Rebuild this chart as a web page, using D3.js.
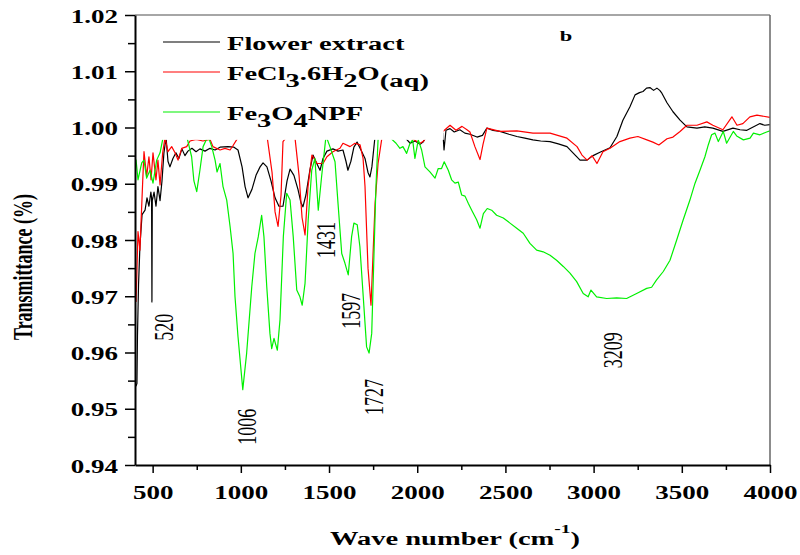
<!DOCTYPE html>
<html lang="en">
<head>
<meta charset="utf-8">
<title>FTIR spectra</title>
<script src="https://cdn.jsdelivr.net/npm/d3@7"></script>
<style>
  body{ margin:0; background:#fff; }
  svg{ display:block; font-family:"Liberation Serif","Times New Roman",serif; }
</style>
</head>
<body>
<div id="chart"></div>
<script>
// [wave number (cm-1), transmittance]
var flowerExtract = [[405,0.9540],[411,0.9545],[414,0.9630],[420,0.9720],[428,0.9790],[440,0.9845],[457,0.9853],[468,0.9875],[479,0.9860],[490,0.9885],[494,0.9875],[496,0.9690],[498,0.9870],[508,0.9885],[519,0.9860],[530,0.9895],[542,0.9870],[553,0.9905],[564,0.9955],[576,0.9982],[587,0.9940],[598,0.9930],[615,0.9945],[632,0.9955],[649,0.9945],[666,0.9962],[683,0.9950],[700,0.9958],[723,0.9963],[746,0.9957],[768,0.9962],[797,0.9958],[825,0.9963],[854,0.9960],[882,0.9965],[927,0.9966],[961,0.9965],[984,0.9960],[1007,0.9930],[1024,0.9895],[1041,0.9875],[1063,0.9890],[1086,0.9915],[1109,0.9930],[1126,0.9937],[1148,0.9930],[1171,0.9905],[1194,0.9875],[1216,0.9860],[1239,0.9860],[1262,0.9905],[1279,0.9926],[1301,0.9915],[1324,0.9890],[1341,0.9866],[1352,0.9859],[1369,0.9880],[1392,0.9925],[1409,0.9951],[1432,0.9935],[1449,0.9924],[1466,0.9945],[1488,0.9958],[1522,0.9962],[1551,0.9958],[1579,0.9960],[1596,0.9940],[1607,0.9924],[1624,0.9940],[1641,0.9965],[1659,0.9974],[1681,0.9960],[1704,0.9945],[1721,0.9920],[1732,0.9912],[1743,0.9930],[1761,0.9985],[1850,0.9988],[1931,0.9982],[1960,0.9972],[1988,0.9976],[2016,0.9970],[2033,0.9974],[2060,0.9988],[2120,0.9990],[2146,0.9990],[2152,0.9960],[2163,0.9995],[2186,0.9998],[2210,0.9992],[2242,0.9996],[2270,0.9990],[2299,0.9988],[2339,0.9983],[2370,0.9986],[2395,0.9999],[2430,0.9995],[2469,0.9993],[2520,0.9988],[2565,0.9984],[2610,0.9981],[2656,0.9978],[2700,0.9976],[2753,0.9975],[2800,0.9971],[2849,0.9966],[2883,0.9955],[2923,0.9942],[2963,0.9942],[2997,0.9950],[3036,0.9956],[3093,0.9964],[3132,0.9984],[3166,1.0013],[3206,1.0037],[3235,1.0058],[3260,1.0062],[3280,1.0064],[3300,1.0070],[3319,1.0071],[3340,1.0066],[3359,1.0070],[3375,1.0066],[3387,1.0061],[3416,1.0044],[3450,1.0028],[3490,1.0013],[3529,1.0001],[3586,0.9999],[3630,1.0001],[3676,0.9999],[3733,0.9993],[3790,0.9999],[3830,0.9996],[3869,0.9995],[3943,1.0007],[3970,1.0004],[4000,1.0005]]

var ferricChloride = [[406,0.9690],[417,0.9815],[428,0.9782],[444,0.9907],[451,0.9957],[466,0.9913],[479,0.9948],[491,0.9907],[502,0.9955],[519,0.9907],[530,0.9942],[542,0.9898],[557,0.9955],[570,0.9982],[587,0.9957],[608,0.9966],[627,0.9955],[644,0.9942],[665,0.9963],[693,0.9966],[712,0.9976],[746,0.9979],[785,0.9976],[825,0.9979],[842,0.9966],[882,0.9960],[910,0.9963],[939,0.9960],[956,0.9968],[984,0.9982],[1052,0.9986],[1148,0.9986],[1177,0.9920],[1194,0.9850],[1211,0.9824],[1228,0.9880],[1239,0.9975],[1267,0.9986],[1307,0.9982],[1330,0.9915],[1347,0.9840],[1364,0.9809],[1381,0.9895],[1403,0.9951],[1432,0.9936],[1466,0.9936],[1488,0.9948],[1522,0.9957],[1562,0.9963],[1579,0.9972],[1619,0.9966],[1647,0.9972],[1676,0.9969],[1693,0.9945],[1704,0.9895],[1721,0.9750],[1738,0.9684],[1761,0.9865],[1778,0.9936],[1800,0.9982],[1874,0.9986],[1960,0.9982],[2016,0.9972],[2033,0.9975],[2060,0.9986],[2101,0.9988],[2146,0.9993],[2186,1.0004],[2220,0.9995],[2254,1.0002],[2282,0.9996],[2299,0.9992],[2327,0.9966],[2356,0.9943],[2373,0.9970],[2395,0.9999],[2469,0.9993],[2565,0.9994],[2656,0.9990],[2753,0.9990],[2849,0.9981],[2906,0.9966],[2934,0.9951],[2963,0.9942],[2991,0.9950],[3019,0.9936],[3053,0.9957],[3093,0.9963],[3149,0.9975],[3206,0.9981],[3251,0.9984],[3302,0.9978],[3336,0.9974],[3370,0.9969],[3416,0.9980],[3450,0.9983],[3490,0.9993],[3529,1.0004],[3586,1.0004],[3642,1.0010],[3676,1.0004],[3733,0.9996],[3784,1.0019],[3813,1.0004],[3846,1.0007],[3886,1.0019],[3926,1.0022],[4000,1.0018]]

var fe3o4NPF = [[400,0.9939],[406,0.9942],[417,0.9907],[438,0.9937],[451,0.9942],[466,0.9910],[485,0.9924],[502,0.9901],[523,0.9942],[542,0.9955],[559,0.9982],[598,0.9986],[655,0.9986],[695,0.9982],[721,0.9948],[734,0.9905],[750,0.9886],[768,0.9924],[786,0.9966],[814,0.9985],[835,0.9966],[854,0.9942],[865,0.9921],[882,0.9936],[899,0.9895],[920,0.9871],[939,0.9824],[956,0.9776],[967,0.9699],[984,0.9628],[1011,0.9534],[1033,0.9599],[1062,0.9717],[1080,0.9776],[1099,0.9806],[1118,0.9844],[1131,0.9806],[1147,0.9717],[1165,0.9634],[1175,0.9607],[1188,0.9625],[1207,0.9604],[1222,0.9658],[1241,0.9806],[1260,0.9883],[1279,0.9871],[1297,0.9806],[1317,0.9711],[1335,0.9699],[1348,0.9684],[1364,0.9723],[1382,0.9836],[1402,0.9924],[1420,0.9945],[1439,0.9853],[1458,0.9913],[1483,0.9985],[1505,0.9966],[1534,0.9939],[1551,0.9865],[1572,0.9776],[1590,0.9759],[1609,0.9738],[1628,0.9806],[1641,0.9830],[1660,0.9827],[1675,0.9788],[1694,0.9699],[1713,0.9610],[1727,0.9599],[1742,0.9634],[1755,0.9776],[1766,0.9895],[1779,0.9985],[1846,0.9982],[1880,0.9972],[1902,0.9963],[1919,0.9966],[1940,0.9954],[1959,0.9972],[1974,0.9978],[1987,0.9945],[2006,0.9978],[2025,0.9960],[2044,0.9930],[2072,0.9921],[2101,0.9910],[2119,0.9927],[2138,0.9927],[2153,0.9939],[2176,0.9924],[2195,0.9907],[2214,0.9901],[2233,0.9903],[2252,0.9880],[2271,0.9878],[2290,0.9865],[2309,0.9853],[2337,0.9836],[2356,0.9821],[2375,0.9847],[2397,0.9856],[2422,0.9853],[2450,0.9844],[2488,0.9839],[2526,0.9830],[2564,0.9821],[2601,0.9812],[2639,0.9794],[2677,0.9782],[2714,0.9779],[2753,0.9773],[2790,0.9764],[2828,0.9753],[2866,0.9741],[2904,0.9726],[2941,0.9705],[2969,0.9699],[2985,0.9711],[3017,0.9699],[3074,0.9696],[3131,0.9697],[3187,0.9696],[3244,0.9705],[3301,0.9714],[3329,0.9716],[3357,0.9729],[3395,0.9744],[3433,0.9764],[3471,0.9800],[3508,0.9836],[3546,0.9871],[3575,0.9901],[3603,0.9924],[3631,0.9948],[3650,0.9969],[3669,0.9987],[3688,0.9990],[3707,0.9975],[3735,0.9993],[3754,0.9972],[3792,0.9993],[3811,0.9985],[3849,0.9978],[3887,0.9981],[3906,0.9990],[3943,0.9987],[3981,0.9992],[4000,0.9994]]

var xTicks = [500,1000,1500,2000,2500,3000,3500,4000]
var xMinor = [750,1250,1750,2250,2750,3250,3750]
var yTicks = [0.94,0.95,0.96,0.97,0.98,0.99,1.00,1.01,1.02]
var yMinor = [0.945,0.955,0.965,0.975,0.985,0.995,1.005,1.015]

// peak labels, anchored at [wave number, transmittance]
var peakLabels = [
  {text:"520", w:615, t:0.9645},
  {text:"1006", w:1086, t:0.9468},
  {text:"1431", w:1534, t:0.9800},
  {text:"1597", w:1676, t:0.9674},
  {text:"1727", w:1806, t:0.9521},
  {text:"3209", w:3161, t:0.9604}
]

var W = 800, H = 555
var plotL = 135, plotR = 770, plotT = 15, plotB = 465

var svg = d3.select("#chart").append("svg").attr("width",W).attr("height",H)

var x = d3.scaleLinear().domain([400,4000]).range([plotL,plotR])
var y = d3.scaleLinear().domain([0.94,1.02]).range([plotB,plotT])

svg.append("clipPath").attr("id","plotclip")
  .append("rect").attr("x",plotL).attr("y",plotT).attr("width",plotR-plotL).attr("height",plotB-plotT)

var line = d3.line().x(function(d){return x(d[0])}).y(function(d){return y(d[1])})

var series = [
  {name:"flower", data:flowerExtract, color:"#000000"},
  {name:"fecl3", data:ferricChloride, color:"#ff0000"},
  {name:"npf", data:fe3o4NPF, color:"#00f000"}
]

var plot = svg.append("g").attr("clip-path","url(#plotclip)")
plot.selectAll("path.spec")
  .data(series)
  .enter()
  .append("path")
  .attr("class","spec")
  .attr("d",function(d){return line(d.data)})
  .attr("fill","none")
  .attr("stroke",function(d){return d.color})
  .attr("stroke-width",1.2)
  .attr("stroke-linejoin","round")

// white legend box sits over the curves
svg.append("rect").attr("x",plotL+1).attr("y",plotT+1)
  .attr("width",x(2150)-plotL-1).attr("height",y(0.9978)-plotT-1).attr("fill","#fff")

// frame
svg.append("line").attr("x1",plotL).attr("x2",plotR).attr("y1",plotT).attr("y2",plotT).attr("stroke","#888").attr("stroke-width",1.5)
svg.append("line").attr("x1",plotR).attr("x2",plotR).attr("y1",plotT).attr("y2",plotB).attr("stroke","#666").attr("stroke-width",1.5)

// axes
var xAxis = svg.append("g").attr("transform","translate(0,"+plotB+")")
  .call(d3.axisBottom(x).tickValues(xTicks).tickFormat(d3.format("d")).tickSize(8).tickSizeOuter(0).tickPadding(13))
xAxis.select(".domain").attr("stroke-width",2)
xAxis.selectAll(".tick line").attr("stroke-width",1.5)
xAxis.selectAll("text").attr("font-size",18).attr("font-weight","bold").attr("font-family","Liberation Serif, serif")
  .attr("fill","#000").attr("transform","scale(1.5,1)")

var xMin = svg.append("g").attr("transform","translate(0,"+plotB+")")
  .call(d3.axisBottom(x).tickValues(xMinor).tickSize(5).tickFormat(""))
xMin.select(".domain").remove()
xMin.selectAll(".tick line").attr("stroke-width",1.5)

var yAxis = svg.append("g").attr("transform","translate("+plotL+",0)")
  .call(d3.axisLeft(y).tickValues(yTicks).tickFormat(d3.format(".2f")).tickSize(10).tickSizeOuter(0))
yAxis.select(".domain").attr("stroke-width",2)
yAxis.selectAll(".tick line").attr("stroke-width",1.5)
yAxis.selectAll("text").attr("font-size",18).attr("font-weight","bold").attr("font-family","Liberation Serif, serif")
  .attr("fill","#000").attr("x",-17/1.5).attr("dy","0.4em").attr("transform","scale(1.5,1)")

var yMin = svg.append("g").attr("transform","translate("+plotL+",0)")
  .call(d3.axisLeft(y).tickValues(yMinor).tickSize(7).tickFormat(""))
yMin.select(".domain").remove()
yMin.selectAll(".tick line").attr("stroke-width",1.5)

// axis titles
var xt = svg.append("text").attr("transform","translate(330,545) scale(1.5,1)")
  .attr("font-size",19).attr("font-weight","bold")
xt.append("tspan").text("Wave number (cm")
xt.append("tspan").attr("font-size",13).attr("dy",-12).text("-1")
xt.append("tspan").attr("dy",12).text(")")

svg.append("text").attr("transform","translate(32,267) rotate(-90) scale(1,1.5)")
  .attr("text-anchor","middle").attr("font-size",18).attr("font-weight","bold").text("Transmittance (%)")

// peak labels
svg.selectAll("text.peak")
  .data(peakLabels)
  .enter()
  .append("text")
  .attr("class","peak")
  .attr("transform",function(d){return "translate("+x(d.w)+","+y(d.t)+") rotate(-90) scale(1,1.5)"})
  .attr("text-anchor","middle")
  .attr("font-size",18)
  .text(function(d){return d.text})

svg.append("text").attr("transform","translate(566,41) scale(1.5,1)").attr("text-anchor","middle")
  .attr("font-size",15).attr("font-weight","bold").text("b")

// legend
var legend = [
  {parts:[["Flower extract",0]], color:"#000", ly:42},
  {parts:[["FeCl",0],["3",7],[".6H",-7],["2",7],["O",-7],["(aq)",7]], color:"#ff0000", ly:72},
  {parts:[["Fe",0],["3",7],["O",-7],["4",7],["NPF",-7]], color:"#00f000", ly:112}
]
var lg = svg.selectAll("g.leg").data(legend).enter().append("g").attr("class","leg")
lg.append("line").attr("x1",163).attr("x2",220)
  .attr("y1",function(d){return d.ly}).attr("y2",function(d){return d.ly})
  .attr("stroke",function(d){return d.color}).attr("stroke-width",1.2)
var lt = lg.append("text").attr("transform",function(d){return "translate(227,"+(d.ly+8)+") scale(1.5,1)"})
  .attr("font-size",19).attr("font-weight","bold")
lt.selectAll("tspan").data(function(d){return d.parts}).enter().append("tspan")
  .attr("dy",function(p){return p[1]}).text(function(p){return p[0]})
</script>
</body>
</html>
